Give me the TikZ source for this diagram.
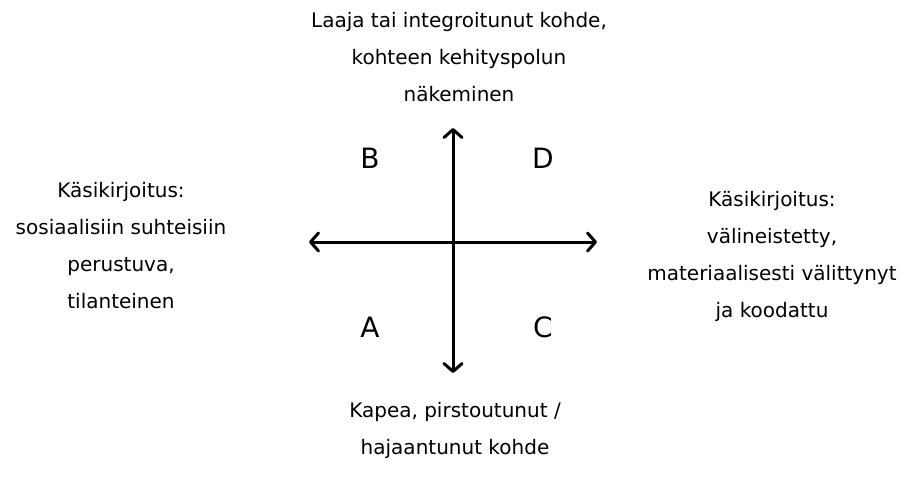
\documentclass[tikz,border=0pt]{standalone}
\usepackage{fontspec}
\setmainfont{DejaVu Sans}
\usetikzlibrary{arrows.meta}
\begin{document}
\begin{tikzpicture}[x=1pt,y=-1pt,
  lbl/.style={align=center,font=\fontsize{20}{37}\selectfont,inner sep=0pt},
  quad/.style={font=\fontsize{28}{32}\selectfont,inner sep=0pt},
  axis/.style={line width=3pt,line cap=round,-{Straight Barb[length=8pt,width=18pt,line width=3pt,round]}}]
\useasboundingbox (0,0) rectangle (914,483);
\coordinate (c) at (453,242);
\coordinate (L) at (309,242);
\coordinate (R) at (597,242);
\coordinate (T) at (453,128);
\coordinate (Bt) at (453,373);
\draw[axis] (c) -- (L);
\draw[axis] (c) -- (R);
\draw[axis] (c) -- (T);
\draw[axis] (c) -- (Bt);
\node[lbl] (top) at (459,57) {Laaja tai integroitunut kohde,\\kohteen kehityspolun\\näkeminen};
\node[lbl] (left) at (121,246) {Käsikirjoitus:\\sosiaalisiin suhteisiin\\perustuva,\\tilanteinen};
\node[lbl] (right) at (772,256) {Käsikirjoitus:\\välineistetty,\\materiaalisesti välittynyt\\ja koodattu};
\node[lbl] (bot) at (455,430) {Kapea, pirstoutunut /\\hajaantunut kohde};
\node[quad] (qB) at (370,158) {B};
\node[quad] (qD) at (543,158) {D};
\node[quad] (qA) at (370,327) {A};
\node[quad] (qC) at (543,327) {C};
\end{tikzpicture}
\end{document}
